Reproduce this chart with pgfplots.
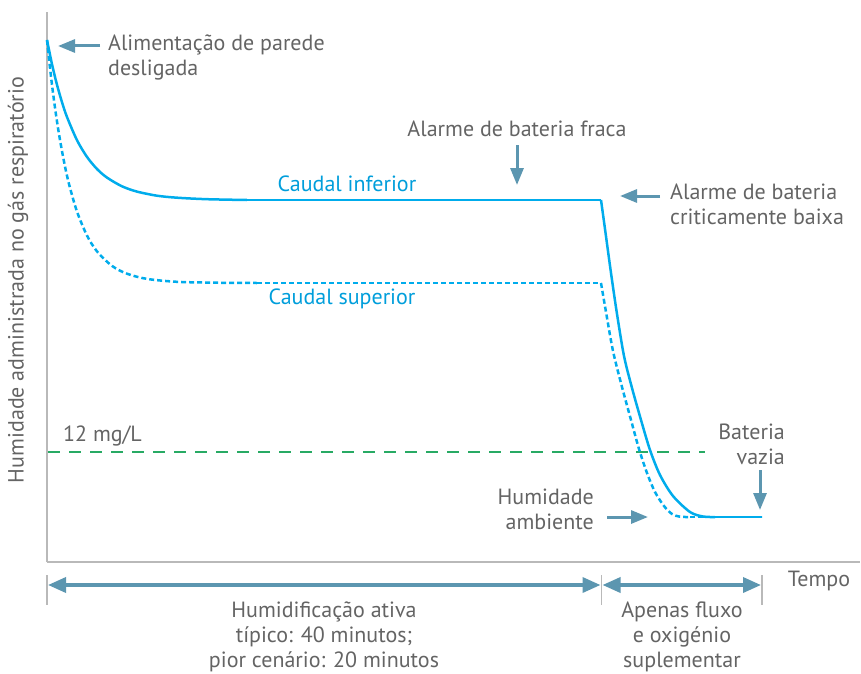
\documentclass[border=0pt]{standalone}
\usepackage{fontspec}
\setmainfont{PT Sans}
\usepackage{pgfplots}
\pgfplotsset{compat=1.18}
\usetikzlibrary{arrows.meta}
\definecolor{curva}{RGB}{0,172,236}
\definecolor{curvatxt}{RGB}{0,158,219}
\definecolor{seta}{RGB}{92,150,176}
\definecolor{verde}{RGB}{40,170,100}
\definecolor{texto}{RGB}{100,100,100}
\definecolor{eixo}{RGB}{185,185,185}

\begin{document}
\begin{tikzpicture}[
  txt/.style={text=texto, font=\fontsize{22}{25}\selectfont, inner sep=0pt},
  seta/.style={draw=seta, line width=3pt, -{Triangle[length=17pt,width=13pt]}},
  dupla/.style={draw=seta, line width=3.5pt, {Triangle[length=18pt,width=15pt]}-{Triangle[length=18pt,width=15pt]}},
  sup/.style={curva, line width=2.5pt, dash pattern=on 5pt off 3pt},
  inf/.style={curva, line width=2.5pt},
]
% pixel units of the reference, y measured up from the time axis
\begin{axis}[
  x=1pt, y=1pt, xmin=47, xmax=860, ymin=0, ymax=550,
  axis lines*=left, axis line style={eixo, line width=1.5pt},
  xtick=\empty, ytick=\empty, clip=false,
]
\addplot[verde, line width=1.6pt, dash pattern=on 12pt off 9pt] coordinates {(48,110) (705,110)};
% caudal superior
\addplot[sup, smooth] coordinates {
  (47,522) (51,485.4) (55,454.3) (59,427.9) (64,400.4) (69,378) (77,350.4) (87,326.5)
  (97,310.6) (112,296.1) (127,288.3) (147,283.1) (177,280.2) (217,279.3) (257,279)};
\addplot[sup] coordinates {(257,279) (601,279)};
\addplot[sup, smooth, tension=0.5] coordinates {
  (601,279) (606,250) (613,211) (622,175) (631,142) (639,113) (647,89) (655,70)
  (664,56) (672,48) (680,45.3) (690,45)};
\addplot[sup] coordinates {(690,45) (762,45)};
% caudal inferior
\addplot[inf, smooth] coordinates {
  (47,522) (52,497.8) (57,477.2) (62,459.8) (67,445) (77,421.8) (87,405.1) (97,393)
  (107,384.4) (122,375.7) (137,370.4) (157,366.3) (177,364.3) (207,362.8) (247,362)};
\addplot[inf] coordinates {(247,362) (601,362)};
\addplot[inf, smooth, tension=0.5] coordinates {
  (601,362) (605,333) (611,289) (617,248) (624,206) (632,174) (641,142) (650,112)
  (660,87) (673,66) (690,50) (703,45.5) (715,45)};
\addplot[inf] coordinates {(715,45) (762,45)};

\node[txt, anchor=west] at (axis cs:63,126) {12 mg/L};
\node[txt, text=curvatxt] at (axis cs:347,378) {Caudal inferior};
\node[txt, text=curvatxt] at (axis cs:342,263) {Caudal superior};

\node[txt] at (axis cs:517,433) {Alarme de bateria fraca};
\draw[seta] (axis cs:517,417) -- (axis cs:517,377);
\node[txt, anchor=west, align=left] at (axis cs:670,358) {Alarme de bateria\\criticamente baixa};
\draw[seta] (axis cs:660,366) -- (axis cs:620,366);
\node[txt, anchor=west, align=left] at (axis cs:108,504.5) {Alimentação de parede\\desligada};
\draw[seta] (axis cs:100,516) -- (axis cs:58,516);
\node[txt, anchor=east, align=right] at (axis cs:785,117.5) {Bateria\\vazia};
\draw[seta] (axis cs:760,92) -- (axis cs:760,52);
\node[txt, anchor=east, align=right] at (axis cs:594,52.5) {Humidade\\ambiente};
\draw[seta] (axis cs:607,45) -- (axis cs:648,45);

\node[txt, rotate=90] at (axis cs:18,282) {Humidade administrada no gás respiratório};

\draw[eixo, line width=1.5pt] (axis cs:47,-13) -- (axis cs:47,-43);
\draw[eixo, line width=1.5pt] (axis cs:601.5,-13) -- (axis cs:601.5,-43);
\draw[eixo, line width=1.5pt] (axis cs:762,-13) -- (axis cs:762,-43);
\draw[dupla] (axis cs:48,-23) -- (axis cs:600.5,-23);
\draw[dupla] (axis cs:602.5,-23) -- (axis cs:761,-23);
\node[txt] at (axis cs:819,-19) {Tempo};
\node[txt, align=center] at (axis cs:324,-75) {Humidificação ativa\\típico: 40 minutos;\\pior cenário: 20 minutos};
\node[txt, align=center] at (axis cs:682,-75) {Apenas fluxo\\e oxigénio\\suplementar};

\coordinate (bl) at (axis cs:0,-111);
\coordinate (tr) at (axis cs:861,562);
\end{axis}
\pgfresetboundingbox
\path (bl) rectangle (tr);
\end{tikzpicture}
\end{document}
